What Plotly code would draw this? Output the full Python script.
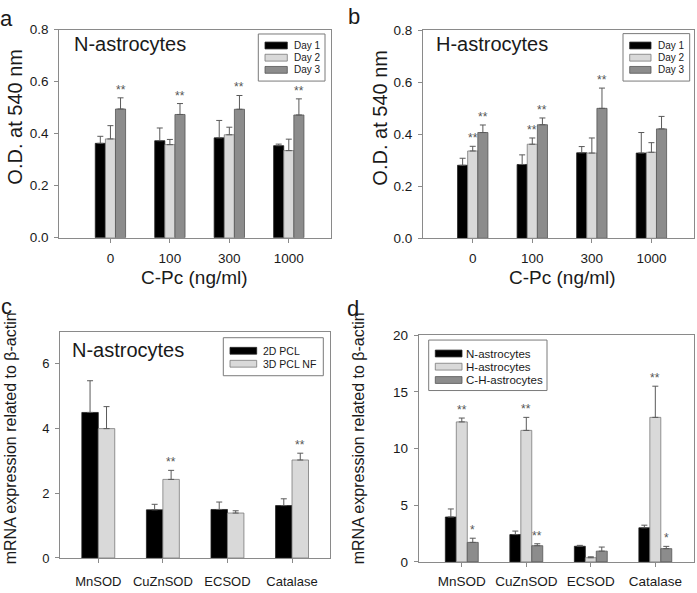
import plotly.graph_objects as go

W, H = 697, 593
FONT = "Liberation Sans, Arial, sans-serif"
TXT = "#1a1a1a"

# ---------------- data ----------------
# panel a: N-astrocytes, O.D. at 540 nm
a_categories = ["0", "100", "300", "1000"]
a_names = ["Day 1", "Day 2", "Day 3"]
a_day1 = [0.363, 0.373, 0.384, 0.354]
a_day1_err = [0.027, 0.049, 0.067, 0.006]
a_day2 = [0.380, 0.358, 0.396, 0.335]
a_day2_err = [0.051, 0.020, 0.029, 0.044]
a_day3 = [0.495, 0.474, 0.494, 0.472]
a_day3_err = [0.043, 0.042, 0.053, 0.062]
a_stars = [["", "", "", ""], ["", "", "", ""], ["**", "**", "**", "**"]]

# panel b: H-astrocytes
b_categories = ["0", "100", "300", "1000"]
b_names = ["Day 1", "Day 2", "Day 3"]
b_day1 = [0.281, 0.284, 0.329, 0.328]
b_day1_err = [0.027, 0.037, 0.024, 0.079]
b_day2 = [0.336, 0.362, 0.328, 0.331]
b_day2_err = [0.018, 0.024, 0.058, 0.037]
b_day3 = [0.407, 0.437, 0.500, 0.421]
b_day3_err = [0.029, 0.026, 0.078, 0.048]
b_stars = [["", "", "", ""], ["**", "**", "", ""], ["**", "**", "**", ""]]

# panel c: mRNA, N-astrocytes
c_categories = ["MnSOD", "CuZnSOD", "ECSOD", "Catalase"]
c_names = ["2D PCL", "3D PCL NF"]
c_2d = [4.50, 1.49, 1.50, 1.62]
c_2d_err = [0.98, 0.17, 0.23, 0.21]
c_3d = [4.00, 2.43, 1.39, 3.03]
c_3d_err = [0.68, 0.28, 0.07, 0.21]
c_stars = [["", "", "", ""], ["", "**", "", "**"]]

# panel d: mRNA, three cell types
d_categories = ["MnSOD", "CuZnSOD", "ECSOD", "Catalase"]
d_names = ["N-astrocytes", "H-astrocytes", "C-H-astrocytes"]
d_n = [3.96, 2.41, 1.38, 3.01]
d_n_err = [0.71, 0.31, 0.08, 0.23]
d_h = [12.35, 11.60, 0.37, 12.75]
d_h_err = [0.34, 1.15, 0.08, 2.75]
d_ch = [1.72, 1.43, 0.95, 1.17]
d_ch_err = [0.37, 0.17, 0.36, 0.20]
d_stars = [["", "", "", ""], ["**", "**", "", "**"], ["*", "**", "", "*"]]

# ---------------- styling ----------------
BLACK, LIGHT, DARK = "#000000", "#d9d9d9", "#8c8c8c"
OUTLINE = ["#222222", "#7a7a7a", "#555555"]
AXIS_C = "#8a8a8a"
BARGAP = 0.49


def px_x(p):
    return p / W


def px_y(p):
    return 1 - p / H


fig = go.Figure()
annotations = []
shapes = []

panels = [
    dict(key="", cats=a_categories, names=a_names,
         vals=[a_day1, a_day2, a_day3], errs=[a_day1_err, a_day2_err, a_day3_err],
         stars=a_stars, colors=[BLACK, LIGHT, DARK],
         xpx=(59.3, 331.0), ypx=(236.7, 23.3), xr=[-0.86, 3.71], yr=[0, 0.8],
         ytick=dict(tickvals=[0, 0.2, 0.4, 0.6, 0.8], ticktext=["0.0", "0.2", "0.4", "0.6", "0.8"]),
         tickfont=13.5, xstand=4),
    dict(key="2", cats=b_categories, names=b_names,
         vals=[b_day1, b_day2, b_day3], errs=[b_day1_err, b_day2_err, b_day3_err],
         stars=b_stars, colors=[BLACK, LIGHT, DARK],
         xpx=(423.0, 693.7), ypx=(237.3, 24.0), xr=[-0.835, 3.71], yr=[0, 0.8],
         ytick=dict(tickvals=[0, 0.2, 0.4, 0.6, 0.8], ticktext=["0.0", "0.2", "0.4", "0.6", "0.8"]),
         tickfont=13.5, xstand=4),
    dict(key="3", cats=c_categories, names=c_names,
         vals=[c_2d, c_3d], errs=[c_2d_err, c_3d_err],
         stars=c_stars, colors=[BLACK, LIGHT],
         xpx=(60.0, 330.0), ypx=(565.3, 333.0), xr=[-0.593, 3.588], yr=[0, 7],
         ytick=dict(tickvals=[0, 2, 4, 6]),
         tickfont=13, xstand=7),
    dict(key="4", cats=d_categories, names=d_names,
         vals=[d_n, d_h, d_ch], errs=[d_n_err, d_h_err, d_ch_err],
         stars=d_stars, colors=[BLACK, LIGHT, DARK],
         xpx=(418.7, 693.7), ypx=(569.3, 336.7), xr=[-0.668, 3.595], yr=[0, 20],
         ytick=dict(tickvals=[0, 5, 10, 15, 20]),
         tickfont=13.5, xstand=3),
]

layout_axes = {}
for p in panels:
    k = p["key"]
    xref, yref = "x" + k, "y" + k
    n = len(p["vals"])
    gw = 1 - BARGAP
    xs = list(range(len(p["cats"])))
    for j in range(n):
        fig.add_trace(go.Bar(
            x=xs, y=p["vals"][j], name=p["names"][j],
            marker=dict(color=p["colors"][j], line=dict(color=OUTLINE[j], width=0.8)),
            error_y=dict(type="data", array=p["errs"][j], arrayminus=[0] * len(xs),
                         symmetric=False, color="#5a5a5a", thickness=1, width=3),
            xaxis=xref, yaxis=yref, showlegend=False, hoverinfo="skip",
        ))
        off = -gw / 2 + (j + 0.5) * gw / n
        for i, s in enumerate(p["stars"][j]):
            if s:
                annotations.append(dict(
                    x=xs[i] + off, y=p["vals"][j][i] + p["errs"][j][i], xref=xref, yref=yref,
                    text=s, showarrow=False, yanchor="bottom", yshift=-1,
                    font=dict(family=FONT, size=12, color="#555555")))
    axis_common = dict(showline=True, mirror=True, linecolor=AXIS_C, linewidth=1,
                       ticks="outside", ticklen=4, tickcolor=AXIS_C, showgrid=False,
                       zeroline=False, fixedrange=True,
                       tickfont=dict(family=FONT, size=p["tickfont"], color=TXT))
    layout_axes["xaxis" + k] = dict(
        axis_common, domain=[px_x(p["xpx"][0]), px_x(p["xpx"][1])], range=p["xr"],
        tickvals=xs, ticktext=p["cats"], anchor=yref, ticklabelstandoff=p["xstand"])
    layout_axes["yaxis" + k] = dict(
        axis_common, domain=[px_y(p["ypx"][0]), px_y(p["ypx"][1])], range=p["yr"],
        anchor=xref, ticklabelstandoff=3, **p["ytick"])


def legend(names, colors, box, ys, sw_x, tx_x, fsize, sw_h=7):
    x0, y0, x1, y1 = box
    shapes.append(dict(type="rect", xref="paper", yref="paper",
                       x0=px_x(x0), x1=px_x(x1), y0=px_y(y1), y1=px_y(y0),
                       line=dict(color="#7a7a7a", width=1), fillcolor="white", layer="above"))
    for j, (nm, col) in enumerate(zip(names, colors)):
        yc = ys[j]
        shapes.append(dict(type="rect", xref="paper", yref="paper",
                           x0=px_x(sw_x[0]), x1=px_x(sw_x[1]),
                           y0=px_y(yc + sw_h / 2), y1=px_y(yc - sw_h / 2),
                           line=dict(color=OUTLINE[j], width=0.8), fillcolor=col, layer="above"))
        annotations.append(dict(x=px_x(tx_x), y=px_y(yc), xref="paper", yref="paper",
                                text=nm, showarrow=False, xanchor="left", yanchor="middle",
                                font=dict(family=FONT, size=fsize, color=TXT)))


legend(a_names, [BLACK, LIGHT, DARK], (258.3, 27.7, 325.0, 76.0), [39.5, 52.0, 64.5],
       (265.0, 287.3), 291.5, 10)
legend(b_names, [BLACK, LIGHT, DARK], (623.0, 27.3, 689.7, 76.0), [39.5, 52.0, 64.5],
       (629.7, 651.0), 655.5, 10)
legend(c_names, [BLACK, LIGHT], (223.3, 339.3, 323.3, 378.3), [352.7, 366.0],
       (230.0, 256.7), 260.5, 10.5)
legend(d_names, [BLACK, LIGHT, DARK], (428.7, 341.7, 547.0, 393.5), [355.5, 369.0, 382.7],
       (435.3, 462.0), 464.5, 11.5)


def text(x, y, s, size, anchor="center", angle=0):
    annotations.append(dict(x=px_x(x), y=px_y(y), xref="paper", yref="paper", text=s,
                            showarrow=False, xanchor=anchor, yanchor="middle", textangle=angle,
                            font=dict(family=FONT, size=size, color=TXT)))


# panel letters
text(-2, 12, "a", 22, "left")
text(346, 10, "b", 22, "left")
text(-1, 307, "c", 22, "left")
text(345, 309, "d", 22, "left")
# inner titles
text(71.5, 38, "N-astrocytes", 20, "left")
text(433.5, 37.7, "H-astrocytes", 20, "left")
text(69.5, 352, "N-astrocytes", 20, "left")
# axis titles
text(15.5, 113, "O.D. at 540 nm", 20, angle=-90)
text(380, 113.5, "O.D. at 540 nm", 20, angle=-90)
text(194, 278, "C-Pc (ng/ml)", 19)
text(562.5, 278, "C-Pc (ng/ml)", 19)
text(10, 442.5, "mRNA expression related to \u03b2-actin", 16, angle=-90)
text(358, 442.5, "mRNA expression related to \u03b2-actin", 16, angle=-90)

fig.update_layout(
    width=W, height=H, margin=dict(l=0, r=0, t=0, b=0),
    paper_bgcolor="white", plot_bgcolor="white",
    barmode="group", bargap=BARGAP, bargroupgap=0,
    showlegend=False, annotations=annotations, shapes=shapes,
    font=dict(family=FONT, color=TXT),
    **layout_axes,
)

fig.write_html("out.html", config={"displayModeBar": False},
               post_script="document.body.style.margin='0';")
